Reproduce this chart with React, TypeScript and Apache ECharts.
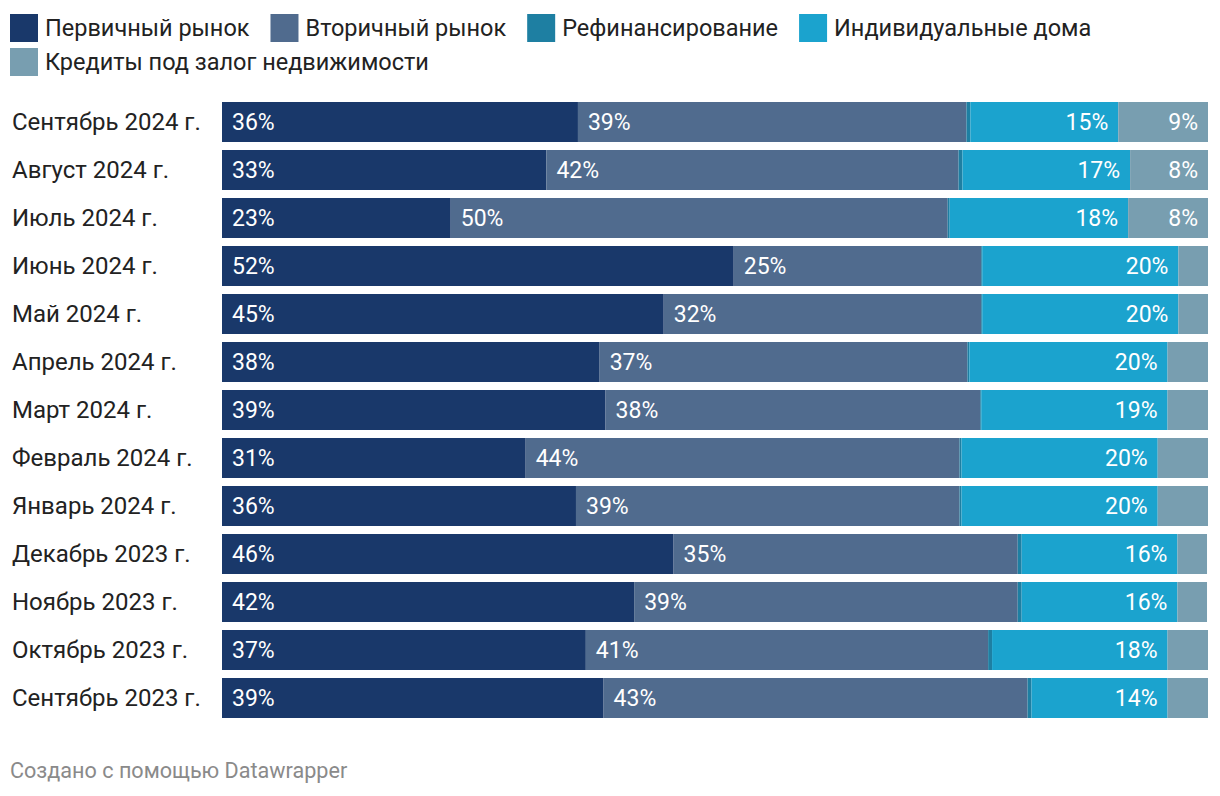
import React, { useEffect, useRef } from "react";
import * as echarts from "echarts";

const categories = [
  "Сентябрь 2024 г.",
  "Август 2024 г.",
  "Июль 2024 г.",
  "Июнь 2024 г.",
  "Май 2024 г.",
  "Апрель 2024 г.",
  "Март 2024 г.",
  "Февраль 2024 г.",
  "Январь 2024 г.",
  "Декабрь 2023 г.",
  "Ноябрь 2023 г.",
  "Октябрь 2023 г.",
  "Сентябрь 2023 г.",
];

const seriesNames = [
  "Первичный рынок",
  "Вторичный рынок",
  "Рефинансирование",
  "Индивидуальные дома",
  "Кредиты под залог недвижимости",
];

const primary = [36.1, 32.9, 23.2, 51.9, 44.8, 38.3, 38.9, 30.8, 35.9, 45.8, 41.8, 36.9, 38.7];
const secondary = [39.4, 41.8, 50.4, 25.1, 32.2, 37.3, 38.0, 44.0, 38.9, 34.9, 38.9, 40.8, 43.0];
const refinancing = [0.4, 0.4, 0.2, 0.1, 0.1, 0.2, 0.1, 0.2, 0.2, 0.4, 0.4, 0.4, 0.4];
const individual = [15.0, 17.0, 18.1, 19.9, 19.9, 20.1, 18.9, 19.9, 19.9, 15.8, 15.8, 17.8, 13.8];
const pledge = [9.1, 7.9, 8.1, 3.0, 3.0, 4.1, 4.1, 5.1, 5.1, 3.0, 3.0, 4.1, 4.1];

const colors = ["#19386a", "#506b8e", "#1e7fa2", "#1ba3ce", "#789eb0"];

const FONT = "Roboto, 'Noto Sans', sans-serif";

export default function App() {
  const ref = useRef<HTMLDivElement>(null);

  useEffect(() => {
    if (!ref.current) return;
    const chart = echarts.init(ref.current, undefined, { renderer: "svg" });

    const fmt = (p: any) => (p.value >= 6 ? Math.round(p.value) + "%" : "");
    const mkLabel = (position: string) => ({
      show: true,
      position,
      distance: 10,
      color: "#ffffff",
      fontSize: 23,
      fontFamily: FONT,
      formatter: fmt,
    });

    const datasets = [primary, secondary, refinancing, individual, pledge];
    const positions = ["insideLeft", "insideLeft", "insideLeft", "insideRight", "insideRight"];

    const legendBase = {
      left: 10,
      padding: 0,
      itemWidth: 28,
      itemHeight: 28,
      itemGap: 21,
      icon: "rect",
      orient: "horizontal",
      textStyle: { fontSize: 23.5, color: "#222222", fontFamily: FONT, padding: [0, 0, 0, 2] },
    };

    chart.setOption({
      animation: false,
      color: colors,
      textStyle: { fontFamily: FONT },
      legend: [
        { ...legendBase, top: 14, data: seriesNames.slice(0, 4) },
        { ...legendBase, top: 48, data: seriesNames.slice(4) },
      ],
      grid: { left: 222, right: 12, top: 98, bottom: 74, containLabel: false },
      xAxis: {
        type: "value",
        min: 0,
        max: 100,
        show: false,
      },
      yAxis: {
        type: "category",
        inverse: true,
        data: categories,
        axisLine: { show: false },
        axisTick: { show: false },
        axisLabel: {
          align: "left",
          margin: 210,
          fontSize: 24,
          color: "#222222",
          fontFamily: FONT,
        },
      },
      series: seriesNames.map((name, i) => ({
        name,
        type: "bar",
        stack: "total",
        barWidth: 40,
        data: datasets[i],
        itemStyle: { color: colors[i] },
        label: mkLabel(positions[i]),
      })),
      graphic: [
        {
          type: "text",
          left: 10,
          top: 759,
          style: {
            text: "Создано с помощью Datawrapper",
            fontSize: 21.6,
            fill: "#8a8a8a",
            fontFamily: FONT,
          },
        },
      ],
    });

    return () => chart.dispose();
  }, []);

  return (
    <div
      ref={ref}
      style={{ position: "absolute", left: 0, top: 0, width: 1220, height: 796, background: "#ffffff" }}
    />
  );
}
